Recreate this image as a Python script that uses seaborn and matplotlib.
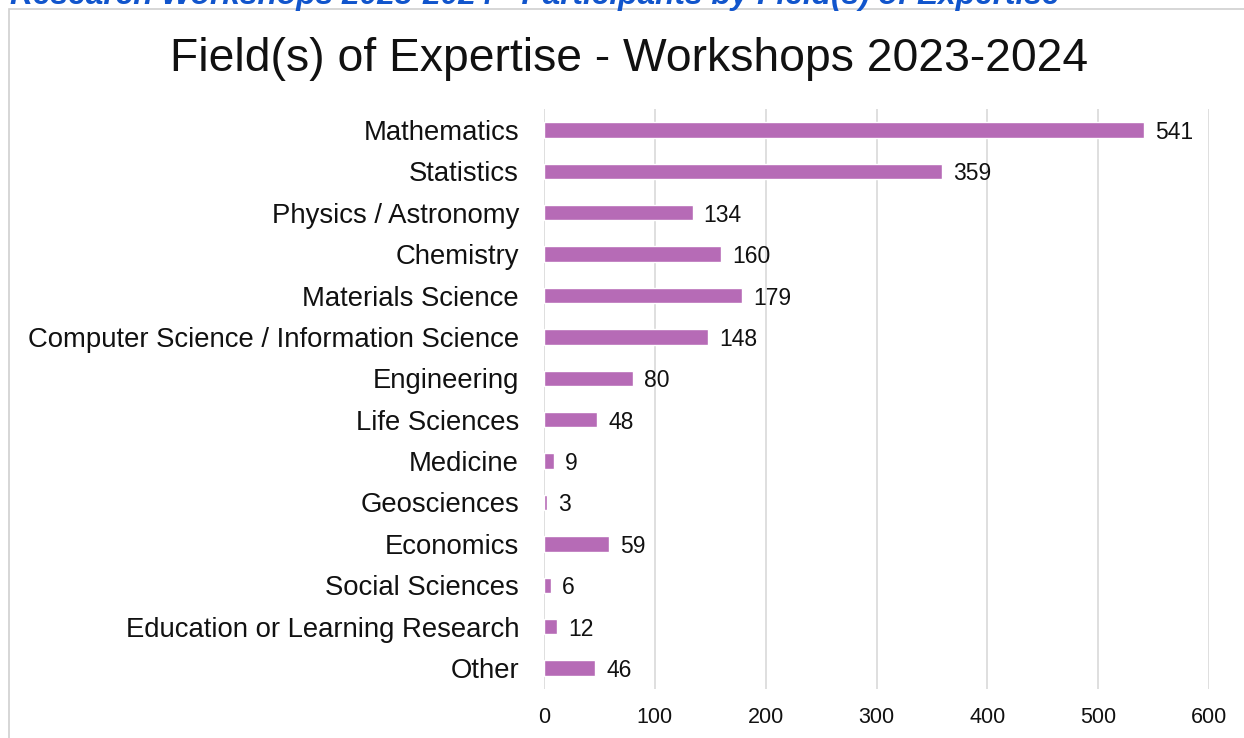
import pandas as pd
import seaborn as sns
import matplotlib.pyplot as plt
from matplotlib.patches import Rectangle

# participants per field
fields = ['Mathematics', 'Statistics', 'Physics / Astronomy', 'Chemistry',
          'Materials Science', 'Computer Science / Information Science',
          'Engineering', 'Life Sciences', 'Medicine', 'Geosciences',
          'Economics', 'Social Sciences', 'Education or Learning Research', 'Other']
counts = [541, 359, 134, 160, 179, 148, 80, 48, 9, 3, 59, 6, 12, 46]
x_ticks = [0, 100, 200, 300, 400, 500, 600]

df = pd.DataFrame({'field': fields, 'count': counts})

sns.set_theme(style='white')
plt.rcParams['font.family'] = ['Liberation Sans', 'DejaVu Sans']

fig = plt.figure(figsize=(12.44, 7.38), dpi=100)
ax = fig.add_axes([0.4373, 0.0668, 0.9719 - 0.4373, 0.8519 - 0.0668])

sns.barplot(data=df, x='count', y='field', color='#b66bb6', width=0.37,
            saturation=1, ax=ax, zorder=3)
labels = ax.bar_label(ax.containers[0], labels=[str(c) for c in counts],
                      padding=8, fontsize=16.5, color='#111111')
for t in labels:
    t.set_va('center_baseline')

ax.set_xlim(0, 600)
ax.set_xticks(x_ticks)
ax.set_xticklabels([str(t) for t in x_ticks])
ax.xaxis.grid(True, color='#d9d9d9', linewidth=1.2, zorder=0)
ax.set_axisbelow(True)
for s in ax.spines.values():
    s.set_visible(False)
ax.tick_params(axis='y', length=0, pad=18, labelsize=19.8, labelcolor='#111111')
ax.tick_params(axis='x', length=0, pad=13, labelsize=15.5, labelcolor='#111111')
ax.set_xlabel('')
ax.set_ylabel('')

fig.text(0.5055, 0.92, 'Field(s) of Expertise - Workshops 2023-2024',
         ha='center', va='center', fontsize=33.3, color='#111111')

# page border and cut-off heading from the source document
fig.add_artist(Rectangle((9 / 1244, -0.1), 1.2, 1 - 9 / 738 + 0.1,
                         transform=fig.transFigure, fill=False,
                         edgecolor='#d0d0d0', linewidth=1.2))
fig.text(10 / 1244, 1 - 4 / 738,
         'Research Workshops 2023-2024 - Participants by Field(s) of Expertise',
         ha='left', va='baseline', fontsize=22.8, fontweight='bold',
         fontstyle='italic', color='#1155cc')

fig.savefig('out.png', dpi=100)
